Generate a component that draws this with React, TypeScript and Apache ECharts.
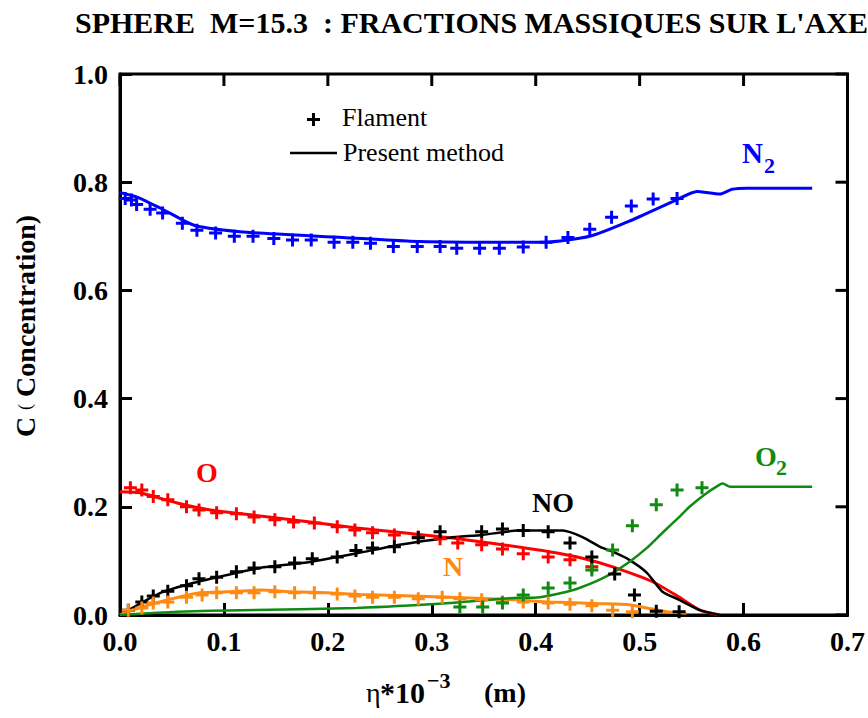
import React, { useEffect, useRef } from "react";
import * as echarts from "echarts";

const SERIF = "'Liberation Serif', 'Times New Roman', Times, serif";

const titleText = "SPHERE  M=15.3  : FRACTIONS MASSIQUES SUR L'AXE";

const xTicks = [0, 0.1, 0.2, 0.3, 0.4, 0.5, 0.6, 0.7];
const yTicks = [0, 0.2, 0.4, 0.6, 0.8, 1.0];
const X_MIN = 0;
const X_MAX = 0.7;
const Y_MIN = 0;
const Y_MAX = 1;

// N2 — present method (line) and Flament (+)
const n2LineX = [0.0, 0.017, 0.041, 0.072, 0.125, 0.214, 0.279, 0.356, 0.409, 0.452, 0.49, 0.536, 0.555, 0.577, 0.589, 0.603, 0.666];
const n2LineY = [0.781, 0.772, 0.75, 0.72, 0.707, 0.698, 0.691, 0.689, 0.689, 0.7, 0.728, 0.768, 0.783, 0.778, 0.787, 0.789, 0.789];
const n2FlaX = [0.005, 0.011, 0.016, 0.029, 0.041, 0.06, 0.074, 0.092, 0.11, 0.128, 0.148, 0.166, 0.184, 0.206, 0.224, 0.241, 0.263, 0.286, 0.308, 0.324, 0.346, 0.365, 0.388, 0.41, 0.431, 0.452, 0.473, 0.492, 0.513, 0.536];
const n2FlaY = [0.77, 0.767, 0.759, 0.75, 0.743, 0.724, 0.711, 0.706, 0.7, 0.7, 0.696, 0.693, 0.693, 0.689, 0.689, 0.687, 0.681, 0.681, 0.681, 0.678, 0.678, 0.678, 0.68, 0.689, 0.698, 0.713, 0.735, 0.756, 0.769, 0.77];

// O
const oLineX = [0.0, 0.019, 0.055, 0.087, 0.135, 0.183, 0.228, 0.317, 0.356, 0.413, 0.445, 0.474, 0.513, 0.538, 0.558, 0.577];
const oLineY = [0.228, 0.226, 0.207, 0.194, 0.183, 0.172, 0.161, 0.143, 0.133, 0.117, 0.105, 0.089, 0.061, 0.033, 0.009, 0.0];
const oFlaX = [0.01, 0.021, 0.032, 0.046, 0.064, 0.076, 0.093, 0.112, 0.129, 0.149, 0.167, 0.187, 0.209, 0.226, 0.243, 0.264, 0.287, 0.308, 0.325, 0.348, 0.368, 0.388, 0.412, 0.433, 0.454];
const oFlaY = [0.235, 0.231, 0.219, 0.213, 0.2, 0.194, 0.189, 0.187, 0.181, 0.176, 0.172, 0.17, 0.163, 0.157, 0.152, 0.148, 0.144, 0.141, 0.133, 0.13, 0.122, 0.113, 0.107, 0.102, 0.089];

// NO
const noLineX = [0.0, 0.038, 0.07, 0.103, 0.135, 0.183, 0.228, 0.269, 0.317, 0.349, 0.382, 0.426, 0.445, 0.462, 0.474, 0.49, 0.507, 0.522, 0.538, 0.558, 0.577];
const noLineY = [0.0, 0.04, 0.059, 0.074, 0.087, 0.098, 0.114, 0.13, 0.143, 0.148, 0.156, 0.156, 0.144, 0.126, 0.117, 0.102, 0.078, 0.043, 0.028, 0.009, 0.0];
const noFlaX = [0.008, 0.021, 0.032, 0.046, 0.064, 0.076, 0.093, 0.112, 0.129, 0.149, 0.168, 0.185, 0.209, 0.227, 0.243, 0.264, 0.287, 0.308, 0.348, 0.368, 0.388, 0.412, 0.433, 0.454, 0.476, 0.495, 0.516, 0.538];
const noFlaY = [0.009, 0.024, 0.035, 0.044, 0.054, 0.067, 0.07, 0.08, 0.087, 0.089, 0.096, 0.104, 0.107, 0.119, 0.124, 0.126, 0.143, 0.154, 0.154, 0.159, 0.156, 0.154, 0.133, 0.107, 0.076, 0.037, 0.007, 0.006];

// N
const nLineX = [0.0, 0.007, 0.038, 0.077, 0.103, 0.135, 0.166, 0.199, 0.231, 0.317, 0.382, 0.413, 0.462, 0.49, 0.507, 0.526, 0.545];
const nLineY = [0.0, 0.006, 0.024, 0.041, 0.043, 0.046, 0.043, 0.041, 0.038, 0.033, 0.028, 0.024, 0.021, 0.019, 0.013, 0.006, 0.003];
const nFlaX = [0.008, 0.021, 0.032, 0.046, 0.064, 0.079, 0.093, 0.112, 0.129, 0.149, 0.168, 0.187, 0.209, 0.226, 0.243, 0.264, 0.287, 0.31, 0.327, 0.348, 0.368, 0.388, 0.412, 0.433, 0.454, 0.474, 0.493];
const nFlaY = [0.009, 0.013, 0.022, 0.024, 0.033, 0.037, 0.041, 0.041, 0.041, 0.043, 0.041, 0.041, 0.039, 0.035, 0.033, 0.033, 0.03, 0.033, 0.03, 0.028, 0.024, 0.024, 0.022, 0.02, 0.017, 0.009, 0.006];

// O2
const o2LineX = [0.0, 0.055, 0.118, 0.228, 0.317, 0.375, 0.404, 0.43, 0.442, 0.459, 0.474, 0.49, 0.507, 0.522, 0.538, 0.548, 0.562, 0.577, 0.58, 0.587, 0.666];
const o2LineY = [0.0, 0.006, 0.009, 0.013, 0.022, 0.031, 0.033, 0.043, 0.05, 0.063, 0.078, 0.098, 0.124, 0.152, 0.181, 0.2, 0.222, 0.241, 0.243, 0.237, 0.237];
const o2FlaX = [0.327, 0.349, 0.368, 0.388, 0.412, 0.433, 0.454, 0.474, 0.493, 0.516, 0.536, 0.56];
const o2FlaY = [0.015, 0.015, 0.022, 0.037, 0.05, 0.059, 0.083, 0.12, 0.165, 0.204, 0.231, 0.235];

const BLUE = "#0000ff";
const RED = "#ff0000";
const BLACK = "#000000";
const ORANGE = "#ff8a12";
const GREEN = "#118a11";

const PLUS = "path://M5,0H8V5H13V8H8V13H5V8H0V5H5Z";

function pairs(xs: number[], ys: number[]) {
  return xs.map((x, i) => [x, ys[i]]);
}

function lineSeries(xs: number[], ys: number[], color: string, width: number) {
  return {
    type: "line",
    data: pairs(xs, ys),
    showSymbol: false,
    smooth: 0.2,
    lineStyle: { color, width },
    silent: true,
    z: 2,
  };
}

function plusSeries(xs: number[], ys: number[], color: string) {
  return {
    type: "scatter",
    data: pairs(xs, ys),
    symbol: PLUS,
    symbolSize: 13,
    itemStyle: { color, opacity: 1 },
    silent: true,
    z: 3,
  };
}

// inward ticks on the top and right frame edges, drawn as small rect symbols
function edgeTicks(data: number[][], size: number[], offset: number[]) {
  return {
    type: "scatter",
    data,
    symbol: "rect",
    symbolSize: size,
    symbolOffset: offset,
    itemStyle: { color: "#000000", opacity: 1 },
    silent: true,
    z: 6,
  };
}

function txt(text: string, x: number, y: number, size: number, color: string, bold: boolean, align = "left") {
  return {
    type: "text",
    x,
    y,
    z: 10,
    style: {
      text,
      fill: color,
      fontSize: size,
      fontWeight: bold ? "bold" : "normal",
      fontFamily: SERIF,
      align,
      verticalAlign: "middle",
      textAlign: align,
      textVerticalAlign: "middle",
    },
  };
}

export default function App() {
  const ref = useRef<HTMLDivElement>(null);
  useEffect(() => {
    const chart = echarts.init(ref.current!, null, { renderer: "svg" });
    const labelStyle = {
      fontFamily: SERIF,
      fontWeight: "bold",
      fontSize: 28,
      color: "#000",
    };
    chart.setOption({
      animation: false,
      backgroundColor: "#ffffff",
      grid: {
        left: 120,
        right: 20,
        top: 74,
        bottom: 103,
        containLabel: false,
        show: true,
        borderColor: "#000000",
        borderWidth: 3,
        backgroundColor: "transparent",
      },
      xAxis: {
        type: "value",
        min: X_MIN,
        max: X_MAX,
        interval: 0.1,
        axisLine: { show: true, onZero: false, lineStyle: { color: "#000000", width: 3 } },
        axisTick: { show: true, inside: true, length: 12, lineStyle: { color: "#000000", width: 3 } },
        splitLine: { show: false },
        axisLabel: { ...labelStyle, margin: 12, formatter: (v: number) => v.toFixed(1) },
      },
      yAxis: {
        type: "value",
        min: Y_MIN,
        max: Y_MAX,
        interval: 0.2,
        axisLine: { show: true, onZero: false, lineStyle: { color: "#000000", width: 3 } },
        axisTick: { show: true, inside: true, length: 12, lineStyle: { color: "#000000", width: 3 } },
        splitLine: { show: false },
        axisLabel: { ...labelStyle, margin: 12, formatter: (v: number) => v.toFixed(1) },
      },
      series: [
        lineSeries(n2LineX, n2LineY, BLUE, 3),
        lineSeries(oLineX, oLineY, RED, 3),
        lineSeries(noLineX, noLineY, BLACK, 2.5),
        lineSeries(nLineX, nLineY, ORANGE, 3),
        lineSeries(o2LineX, o2LineY, GREEN, 2.5),
        plusSeries(n2FlaX, n2FlaY, BLUE),
        plusSeries(oFlaX, oFlaY, RED),
        plusSeries(noFlaX, noFlaY, BLACK),
        plusSeries(nFlaX, nFlaY, ORANGE),
        plusSeries(o2FlaX, o2FlaY, GREEN),
        edgeTicks(xTicks.map((v) => [v, Y_MAX]), [3, 12], [0, 6]),
        edgeTicks(yTicks.map((v) => [X_MAX, v]), [12, 3], [-6, 0]),
      ],
      graphic: [
        txt(titleText, 75, 22, 30, "#000", true),
        // legend
        { type: "rect", shape: { x: 307, y: 118, width: 13, height: 3 }, style: { fill: "#000" } },
        { type: "rect", shape: { x: 312, y: 113, width: 3, height: 13 }, style: { fill: "#000" } },
        txt("Flament", 342, 117, 26, "#000", false),
        { type: "line", shape: { x1: 290, y1: 153, x2: 337, y2: 153 }, style: { stroke: "#000", lineWidth: 2.5 } },
        txt("Present method", 343, 152, 26, "#000", false),
        // species labels
        txt("N", 742, 153, 29, BLUE, true),
        txt("2", 764, 165, 22, BLUE, true),
        txt("O", 207, 472, 28, RED, true, "center"),
        txt("NO", 553, 502, 28, BLACK, true, "center"),
        txt("N", 453, 566, 28, ORANGE, true, "center"),
        txt("O", 755, 456, 28, GREEN, true),
        txt("2", 776, 467, 22, GREEN, true),
        // x axis name
        txt("\u03b7", 366, 692, 28, "#000", false),
        txt("*10", 380, 692, 30, "#000", true),
        txt("\u22123", 427, 680, 22, "#000", true),
        txt("(m)", 484, 692, 28, "#000", true),
        // y axis name
        {
          type: "text",
          x: 25,
          y: 326,
          rotation: Math.PI / 2,
          style: {
            text: "{a|C }{b|(}{a| Concentration)}",
            fill: "#000",
            fontFamily: SERIF,
            fontWeight: "bold",
            fontSize: 28,
            align: "center",
            verticalAlign: "middle",
            textAlign: "center",
            textVerticalAlign: "middle",
            rich: {
              a: { fontFamily: SERIF, fontWeight: "bold", fontSize: 28, fill: "#000" },
              b: { fontFamily: SERIF, fontWeight: "normal", fontSize: 18, fill: "#000" },
            },
          },
        },
      ],
    });
    return () => chart.dispose();
  }, []);
  return <div ref={ref} style={{ position: "fixed", left: 0, top: 0, width: 868, height: 718 }} />;
}
